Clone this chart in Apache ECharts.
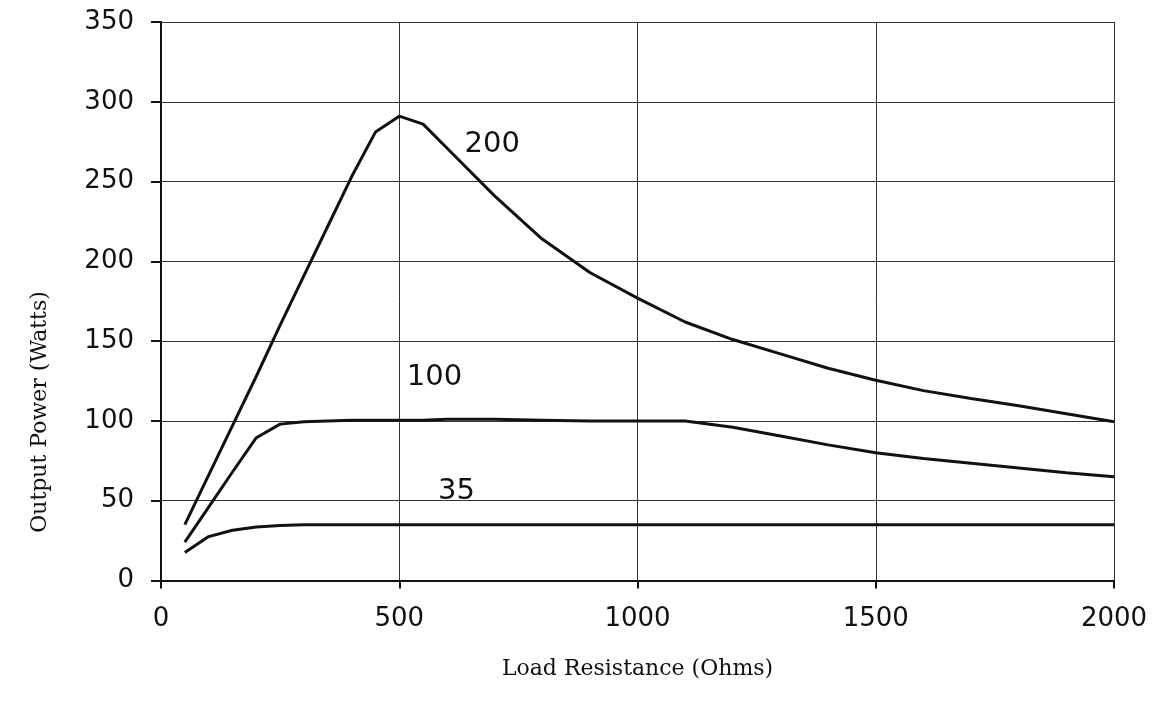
<!DOCTYPE html>
<html>
<head>
<meta charset="utf-8">
<script src="https://cdn.jsdelivr.net/npm/echarts@6/dist/echarts.min.js"></script>
<style>
html,body{margin:0;padding:0;background:#fff;}
#chart{width:1157px;height:708px;}
</style>
</head>
<body>
<div id="chart"></div>
<script>
// Load resistance (Ohms)
const resistance = [50,100,150,200,250,300,350,400,450,500,550,600,700,800,900,1000,1100,1200,1300,1400,1500,1600,1700,1800,1900,2000];
// Output power (Watts) for each curve
const power200 = [35,66,97,128,160,191,222,253,281,291,286,271,241,214,193,177,162,151,142,133,125.5,119,114,109.5,104.5,99.5];
const power100 = [24,46,68,89.5,98,99.5,100,100.5,100.5,100.5,100.5,101,101,100.5,100,100,100,96,90.5,85,80,76.5,73.5,70.5,67.5,65];
const power35  = [17.5,27.5,31.5,33.5,34.5,35,35,35,35,35,35,35,35,35,35,35,35,35,35,35,35,35,35,35,35,35];
const curveNames = ['200','100','35'];
// label anchors in data space [ohms, watts]
const labelAnchors = [[695,273],[574,127],[620,56]];
const xTicks = [0,500,1000,1500,2000];
const yTicks = [0,50,100,150,200,250,300,350];

const chart = echarts.init(document.getElementById('chart'), null, {renderer:'canvas'});
const pairs = arr => resistance.map((r,i)=>[r,arr[i]]);
const allPower = [power200, power100, power35];

const series = allPower.map((arr,k)=>({
  type:'line',
  name: curveNames[k],
  data: pairs(arr),
  showSymbol:false,
  symbol:'none',
  smooth:false,
  lineStyle:{color:'#111',width:3},
  z:5,
  markPoint:{
    symbol:'circle', symbolSize:0,
    data:[{coord:labelAnchors[k], value:curveNames[k]}],
    label:{show:true, position:'inside', formatter:'{c}', color:'#111',
           fontFamily:'DejaVu Sans', fontSize:29}
  }
}));

chart.setOption({
  animation:false,
  backgroundColor:'#fff',
  grid:{left:161,right:43,top:22,bottom:127.5,containLabel:false},
  xAxis:{
    type:'value', min:0, max:2000, interval:500,
    name:'Load Resistance (Ohms)', nameLocation:'middle', nameGap:78,
    nameTextStyle:{fontFamily:'DejaVu Serif', fontSize:22, color:'#111'},
    axisLine:{show:true,lineStyle:{color:'#111',width:2}},
    axisTick:{show:true,inside:false,length:8,lineStyle:{color:'#111',width:2}},
    axisLabel:{margin:26,fontFamily:'DejaVu Sans',fontSize:26,color:'#111',
      formatter:v=>xTicks.includes(v)?String(v):''},
    splitLine:{show:true,lineStyle:{color:'#333',width:1}}
  },
  yAxis:{
    type:'value', min:0, max:350, interval:50,
    axisLine:{show:true,lineStyle:{color:'#111',width:2}},
    axisTick:{show:true,inside:false,length:10,lineStyle:{color:'#111',width:2}},
    axisLabel:{margin:27,fontFamily:'DejaVu Sans',fontSize:26,color:'#111',
      formatter:v=>yTicks.includes(v)?String(v):''},
    splitLine:{show:true,lineStyle:{color:'#333',width:1}}
  },
  graphic:[{
    type:'text', x:40, y:412, rotation:Math.PI/2,
    style:{text:'Output Power (Watts)', fontFamily:'DejaVu Serif', fontSize:22,
      fill:'#111', textAlign:'center', textVerticalAlign:'middle'}
  }],
  series: series
});
</script>
</body>
</html>
